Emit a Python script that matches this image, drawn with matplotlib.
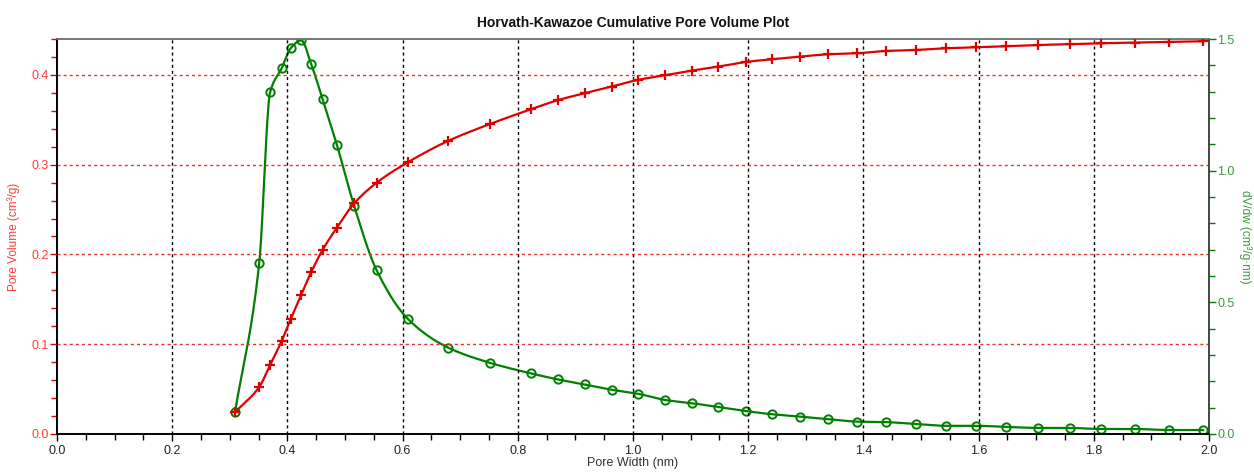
import numpy as np
import matplotlib
matplotlib.use("Agg")
import matplotlib.pyplot as plt
from matplotlib.ticker import MultipleLocator

plt.rcParams['font.family'] = ['Liberation Sans', 'DejaVu Sans']

pore_width = [0.309, 0.351, 0.370, 0.390, 0.406, 0.424, 0.441, 0.461, 0.486, 0.516,
              0.555, 0.610, 0.679, 0.752, 0.823, 0.870, 0.916, 0.963, 1.008, 1.056,
              1.102, 1.148, 1.196, 1.241, 1.290, 1.339, 1.389, 1.439, 1.491, 1.543,
              1.596, 1.647, 1.703, 1.758, 1.813, 1.872, 1.931, 1.990]
pore_volume = [0.0242, 0.0524, 0.0769, 0.1036, 0.1285, 0.155, 0.180, 0.205, 0.230, 0.257,
               0.280, 0.303, 0.3265, 0.3454, 0.3618, 0.372, 0.3796, 0.387, 0.3944, 0.3997,
               0.4048, 0.4093, 0.4145, 0.4174, 0.4204, 0.423, 0.4241, 0.4267, 0.4278, 0.4297,
               0.4308, 0.432, 0.4334, 0.4342, 0.4353, 0.436, 0.4368, 0.4375]
dvdw = [0.083, 0.649, 1.299, 1.389, 1.466, 1.495, 1.406, 1.272, 1.097, 0.865,
        0.621, 0.435, 0.328, 0.270, 0.230, 0.207, 0.188, 0.168, 0.153, 0.129,
        0.117, 0.102, 0.087, 0.075, 0.066, 0.056, 0.047, 0.045, 0.038, 0.031,
        0.031, 0.027, 0.023, 0.023, 0.019, 0.019, 0.015, 0.015]


def smooth(x, y, n=20):
    """Monotone cubic Hermite (PCHIP-like) curve through the data points, for drawing the line."""
    x = np.asarray(x, float); y = np.asarray(y, float)
    h = np.diff(x); d = np.diff(y) / h
    m = np.zeros_like(y)
    for k in range(1, len(x) - 1):
        if d[k - 1] * d[k] > 0:
            w1 = 2 * h[k] + h[k - 1]; w2 = h[k] + 2 * h[k - 1]
            m[k] = (w1 + w2) / (w1 / d[k - 1] + w2 / d[k])
    m[0] = d[0]; m[-1] = d[-1]
    xs, ys = [], []
    for k in range(len(x) - 1):
        t = np.linspace(0, 1, n, endpoint=False)
        h00 = 2 * t**3 - 3 * t**2 + 1; h10 = t**3 - 2 * t**2 + t
        h01 = -2 * t**3 + 3 * t**2; h11 = t**3 - t**2
        xs.append(x[k] + t * h[k])
        ys.append(h00 * y[k] + h10 * h[k] * m[k] + h01 * y[k + 1] + h11 * h[k] * m[k + 1])
    xs.append([x[-1]]); ys.append([y[-1]])
    return np.concatenate(xs), np.concatenate(ys)


red = '#e00000'
red_txt = '#ff3c3c'
green = '#008000'
green_txt = '#3c9a3c'

fig = plt.figure(figsize=(12.54, 4.73), dpi=100)
ax = fig.add_axes([0.0455, 0.0825, 0.9186, 0.835])
ax2 = ax.twinx()

ax.set_xlim(0, 2.0)
ax.set_ylim(0, 0.44)
ax2.set_ylim(0, 1.5)

# grid
for xv in np.arange(0.2, 2.0, 0.2):
    ax.axvline(xv, color='black', lw=1, ls=(0, (2.2, 2.2)), zorder=1)
for yv in [0.1, 0.2, 0.3, 0.4]:
    ax.axhline(yv, color='#e83030', lw=1, ls=(0, (2.2, 2.2)), zorder=1)

xs, ys = smooth(pore_width, pore_volume)
ax.plot(xs, ys, color=red, lw=1.6, zorder=3)
ax.plot(pore_width, pore_volume, ls='none', marker='+', ms=7.5, mew=1.6, color=red, zorder=4)

xs2, ys2 = smooth(pore_width, dvdw)
ax2.plot(xs2, ys2, color=green, lw=1.6, zorder=3)
ax2.plot(pore_width, dvdw, ls='none', marker='o', ms=6, mew=1.4, mfc='none', mec=green, zorder=4)

ax.set_zorder(ax2.get_zorder() + 1)
ax.patch.set_visible(False)

# ticks
ax.xaxis.set_major_locator(MultipleLocator(0.2))
ax.xaxis.set_minor_locator(MultipleLocator(0.05))
ax.yaxis.set_major_locator(MultipleLocator(0.1))
ax.yaxis.set_minor_locator(MultipleLocator(0.02))
ax2.yaxis.set_major_locator(MultipleLocator(0.5))
ax2.yaxis.set_minor_locator(MultipleLocator(0.1))

ax.tick_params(axis='x', which='major', direction='out', length=5, width=1, colors='black',
               labelsize=9, labelcolor='#222222', pad=3)
ax.tick_params(axis='x', which='minor', direction='out', length=4, width=1, colors='black')
ax.tick_params(axis='y', which='major', direction='out', length=5, width=1, colors=red,
               labelsize=9, labelcolor=red_txt, pad=1)
ax.tick_params(axis='y', which='minor', direction='out', length=4, width=1, colors=red)
ax2.tick_params(axis='y', which='major', direction='out', length=5, width=1, colors=green,
                labelsize=9, labelcolor=green_txt, pad=1)
ax2.tick_params(axis='y', which='minor', direction='out', length=4, width=1, colors=green)

ax.xaxis.set_major_formatter(matplotlib.ticker.FormatStrFormatter('%.1f'))
ax.yaxis.set_major_formatter(matplotlib.ticker.FormatStrFormatter('%.1f'))
ax2.yaxis.set_major_formatter(matplotlib.ticker.FormatStrFormatter('%.1f'))

for a in (ax, ax2):
    a.spines['left'].set_color('black')
    a.spines['bottom'].set_color('black')
    a.spines['right'].set_color('#444444')
    a.spines['top'].set_color('#777777')
    for s in a.spines.values():
        s.set_linewidth(1.2)

ax.set_xlabel('Pore Width (nm)', fontsize=9, color='#333333', labelpad=0)
ax.set_ylabel('Pore Volume (cm³/g)', fontsize=8.5, color=red_txt, labelpad=8)
ax2.set_ylabel('dV/dw (cm³/g·nm)', fontsize=8.5, color=green_txt, rotation=270,
               ha='center', va='center')
ax2.yaxis.set_label_coords(1.032, 0.5)
ax.set_title('Horvath-Kawazoe Cumulative Pore Volume Plot', fontsize=10, fontweight='bold',
             color='#111111', pad=9)

fig.savefig('out.png', dpi=100)
